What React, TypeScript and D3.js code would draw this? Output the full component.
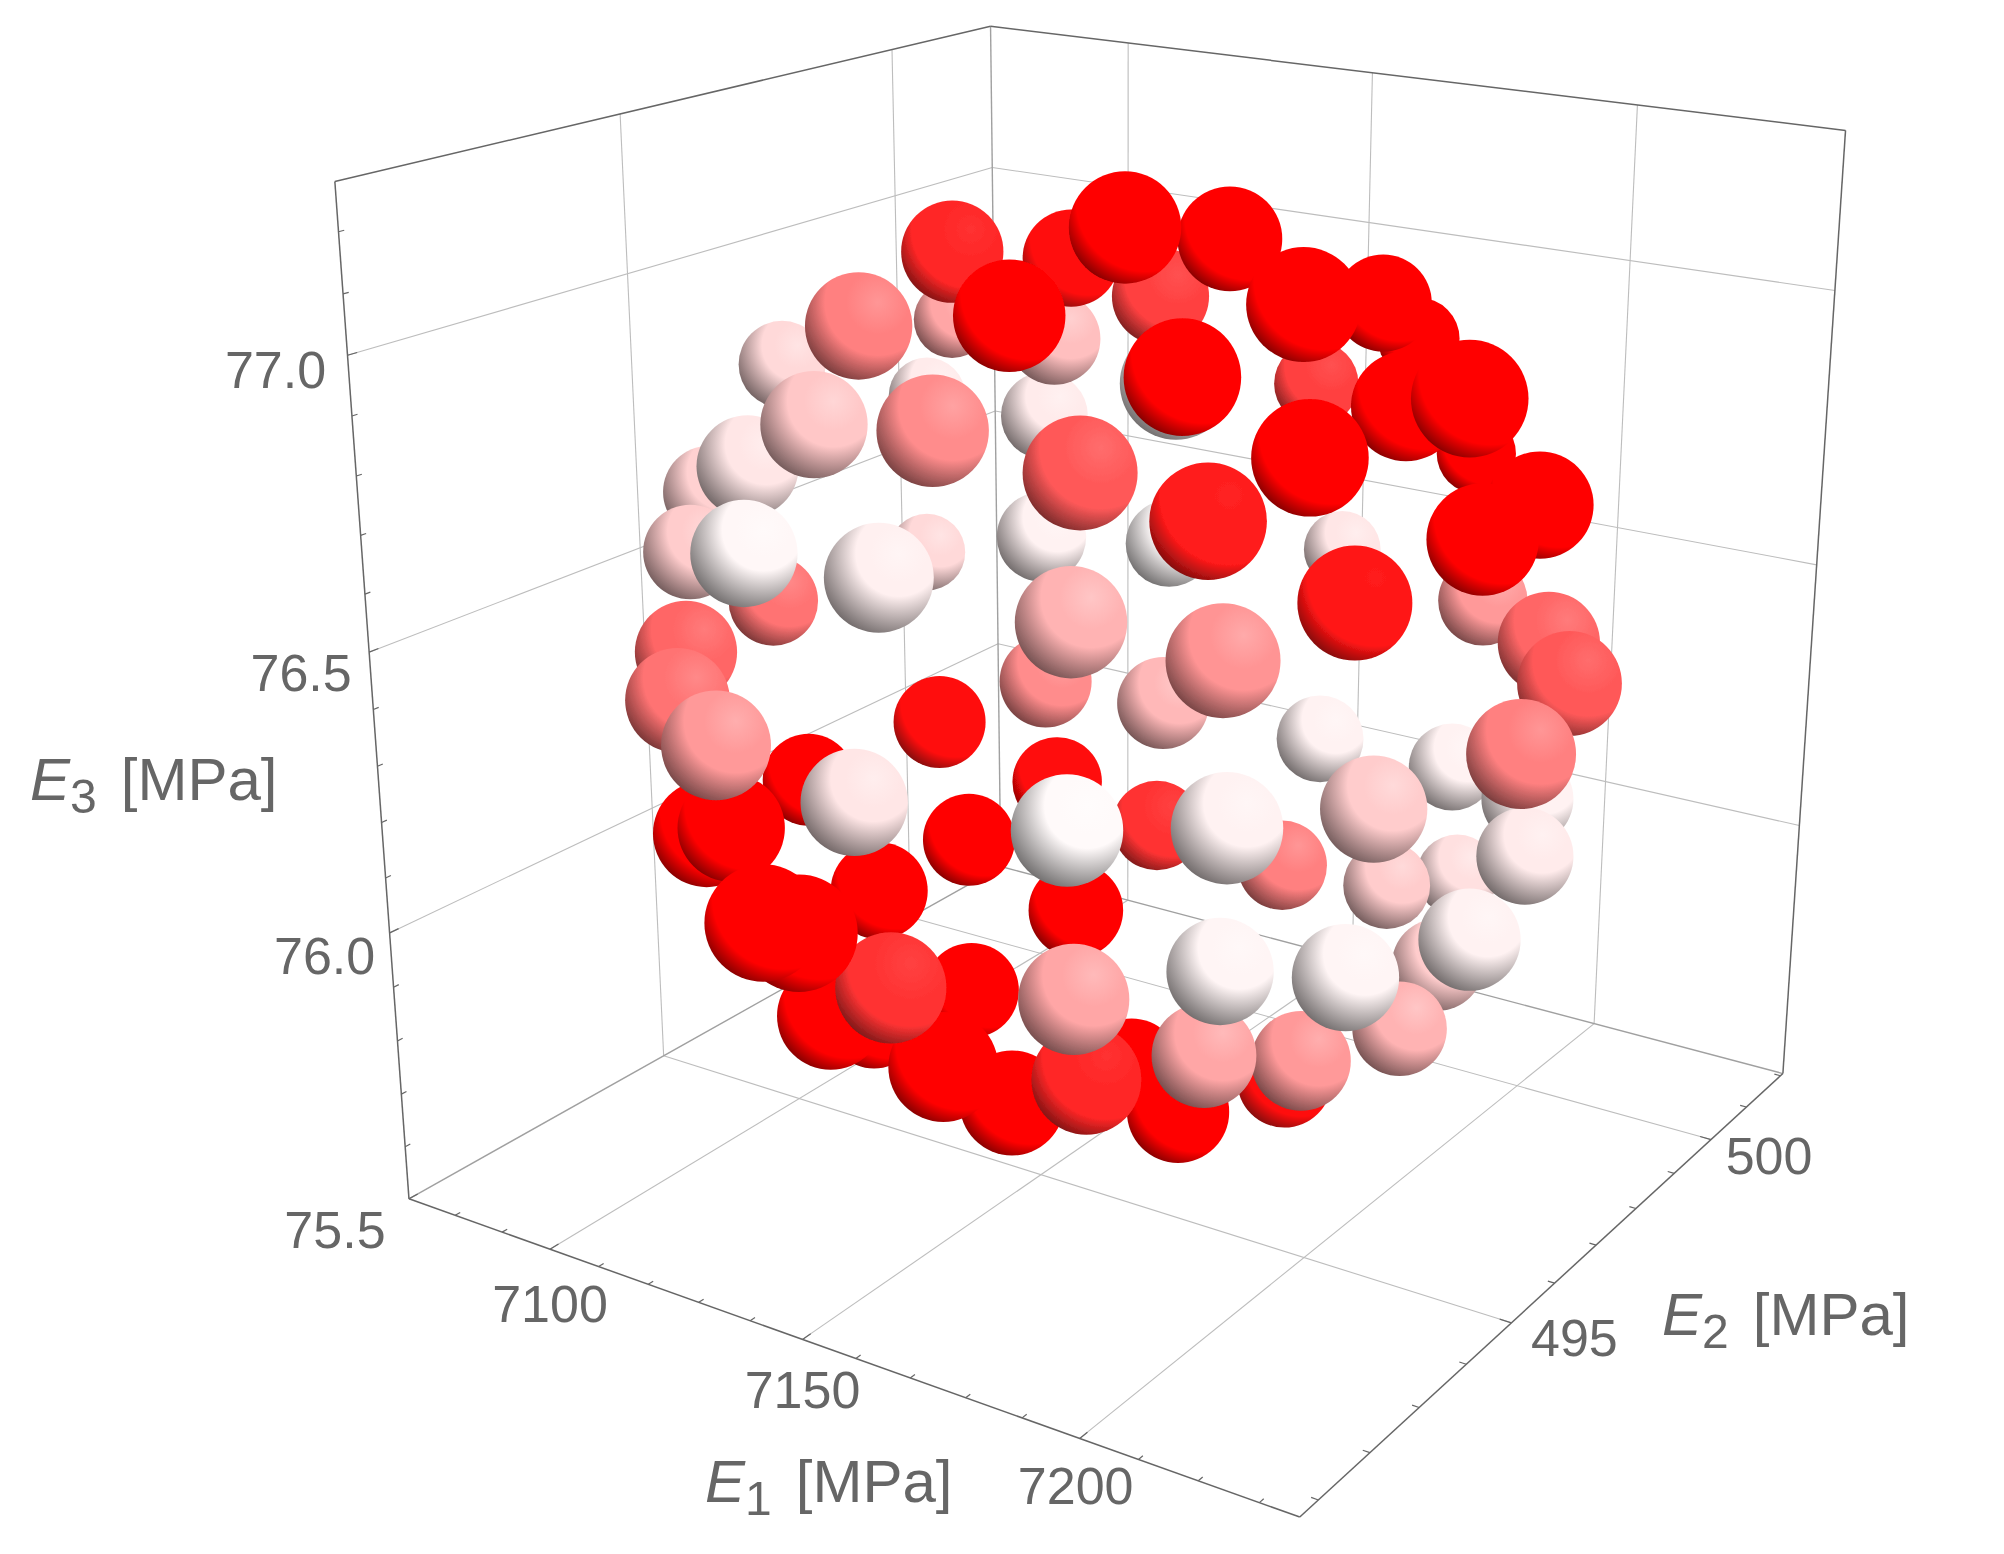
import React from 'react';
import * as d3 from 'd3';

const e1Values = [
  7128.1, 7134.3, 7168.8, 7168.6, 7156.9, 7147.5, 7179.2, 7188.8, 7197.1, 7177.8,
  7159.4, 7150.0, 7204.0, 7223.5, 7167.7, 7219.7, 7221.0, 7206.0, 7211.0, 7195.5,
  7138.0, 7174.4, 7124.8, 7080.0, 7128.3, 7077.0, 7150.5, 7125.3, 7078.7, 7116.2,
  7107.3, 7081.3, 7085.9, 7119.8, 7088.2, 7083.7, 7142.7, 7124.2, 7146.6, 7172.5,
  7196.5, 7133.8, 7150.8, 7188.5, 7217.3, 7224.7, 7227.7, 7104.4, 7110.0, 7126.8,
  7120.2, 7103.7, 7140.6, 7122.7, 7125.7, 7127.8, 7133.8, 7177.5, 7149.2, 7197.1,
  7168.1, 7165.6, 7206.8, 7185.4, 7204.4, 7212.9, 7179.6, 7182.0, 7215.2, 7196.8,
  7149.3, 7126.6, 7152.8, 7157.3, 7137.3, 7157.5, 7143.4, 7120.0, 7163.8, 7164.3,
  7180.5, 7182.0, 7165.8, 7181.8, 7191.7, 7187.8, 7207.8, 7192.5, 7182.9, 7197.2,
];
const e2Values = [
  495.66, 497.30, 494.75, 496.79, 493.88, 497.71, 494.59, 493.66, 494.99, 499.01,
  502.20, 500.88, 496.28, 495.10, 502.70, 497.25, 495.81, 494.11, 494.45, 493.41,
  498.94, 493.35, 497.92, 500.20, 493.97, 497.09, 493.15, 493.44, 499.77, 498.57,
  493.85, 495.33, 494.59, 492.69, 495.83, 499.24, 492.91, 497.69, 502.00, 493.37,
  493.60, 496.79, 497.44, 500.22, 497.93, 497.42, 495.93, 492.95, 492.33, 491.55,
  496.02, 495.04, 492.59, 491.68, 491.83, 495.83, 497.01, 492.77, 497.49, 493.64,
  498.14, 499.26, 495.46, 500.00, 499.36, 498.17, 499.21, 500.67, 496.60, 498.30,
  495.80, 494.24, 490.02, 490.18, 494.93, 491.61, 491.85, 494.68, 491.89, 493.05,
  492.57, 492.64, 495.20, 494.42, 494.14, 494.27, 494.82, 495.75, 496.53, 497.38,
];
const e3Values = [
  77.103, 77.052, 77.227, 77.149, 77.095, 76.992, 76.998, 77.056, 77.139, 76.985,
  76.788, 76.731, 76.943, 77.030, 76.560, 76.770, 76.773, 76.943, 76.707, 76.851,
  76.478, 76.891, 76.874, 76.766, 77.031, 76.778, 76.924, 76.880, 76.627, 76.695,
  76.762, 76.612, 76.540, 76.682, 76.401, 76.343, 76.677, 76.515, 76.357, 76.644,
  76.621, 76.302, 76.268, 76.415, 76.499, 76.467, 76.424, 76.469, 76.425, 76.423,
  76.232, 76.133, 76.305, 76.255, 76.264, 76.036, 76.100, 76.337, 76.028, 76.343,
  75.963, 76.145, 76.304, 76.099, 76.115, 76.091, 75.894, 75.840, 76.031, 75.836,
  75.958, 76.023, 76.271, 76.257, 75.824, 76.082, 75.979, 75.729, 75.945, 75.808,
  76.068, 75.928, 75.742, 75.755, 76.054, 75.885, 76.047, 75.796, 75.682, 75.769,
];
// colour value of each point, 0 is white and 1 is full red
const colorValues = [
  0.85, 0.95, 1, 1, 1, 0.75, 0.03, 1, 1, 1,
  1, 0.75, 1, 1, 1, 1, 1, 1, 0.92, 0.9,
  0.02, 0.65, 0.25, 0.35, 0.5, 0.15, 0.45, 0.22, 0.08, 0.08,
  0.1, 0.18, 0.2, 0.03, 0.55, 0.15, 0.06, 0.05, 0.1, 0.3,
  0.42, 0.45, 0.28, 0.4, 0.6, 0.65, 0.5, 0.6, 0.55, 0.4,
  0.95, 1, 0.1, 1, 1, 1, 0.97, 0.02, 0.8, 0.05,
  0.5, 0.05, 0.2, 0.05, 0.05, 0.08, 0.2, 0.12, 0.05, 0.2,
  1, 1, 1, 1, 1, 0.8, 1, 1, 1, 1,
  0.35, 0.85, 1, 1, 0.04, 0.35, 0.04, 0.4, 0.95, 0.3,
];

const e1Ticks = [7100, 7150, 7200];
const e2Ticks = [495, 500];
const e3Ticks = [75.5, 76, 76.5, 77];
const e1Minor = d3.range(7080, 7231, 10);
const e2Minor = d3.range(491, 503, 1);
const e3Minor = d3.range(75.5, 77.25, 0.1);

const WIDTH = 2004;
const HEIGHT = 1554;
const K = WIDTH / 1568;

const e1Scale = d3.scaleLinear().domain([7070, 7236.5]).range([0, 1]);
const e2Scale = d3.scaleLinear().domain([490.65, 502.07]).range([0, 1]);
const e3Scale = d3.scaleLinear().domain([75.5, 77.28]).range([0, 1]);

// camera: box corners on the picture, solved into a perspective map
const A = [320, 938], B = [1017, 1187], C = [1395, 840], D = [783, 678], E = [262, 142];
const rTaper = -0.094;
const det = (B[0] - C[0]) * (D[1] - C[1]) - (D[0] - C[0]) * (B[1] - C[1]);
const gx = C[0] + A[0] - B[0] - D[0];
const gy = C[1] + A[1] - B[1] - D[1];
const pTaper = (gx * (D[1] - C[1]) - (D[0] - C[0]) * gy) / det;
const qTaper = ((B[0] - C[0]) * gy - gx * (B[1] - C[1])) / det;
const aVec = [B[0] * (1 + pTaper) - A[0], B[1] * (1 + pTaper) - A[1]];
const bVec = [D[0] * (1 + qTaper) - A[0], D[1] * (1 + qTaper) - A[1]];
const cVec = [E[0] * (1 + rTaper) - A[0], E[1] * (1 + rTaper) - A[1]];

type P = [number, number];
const depthOf = (u: number, v: number, w: number) => 1 + pTaper * u + qTaper * v + rTaper * w;
function project(u: number, v: number, w: number): P {
  const d = depthOf(u, v, w);
  return [
    (K * (A[0] + aVec[0] * u + bVec[0] * v + cVec[0] * w)) / d,
    (K * (A[1] + aVec[1] * u + bVec[1] * v + cVec[1] * w)) / d,
  ];
}

const sizeScale = d3.scaleLinear().domain([0.875, 1.115]).range([46 * K, 30 * K]);
const toneScale = d3.scaleLinear<string>().domain([0, 1]).range(['#ffffff', '#ff0000']);
const edge = d3.line();

const points = e1Values
  .map((e1, i) => {
    const u = e1Scale(e1), v = e2Scale(e2Values[i]), w = e3Scale(e3Values[i]);
    const tone = colorValues[i];
    const base = d3.rgb(toneScale(tone));
    const dark = d3.rgb(base.r * 0.36, base.g * 0.36, base.b * 0.36);
    const light = d3.interpolateRgb(base, '#ffffff')(0.35 * (1 - tone));
    const [x, y] = project(u, v, w);
    return {
      id: i, x, y, tone,
      r: sizeScale(depthOf(u, v, w)),
      d: depthOf(u, v, w),
      base: base.formatHex(), dark: dark.formatHex(), light,
    };
  })
  .sort((a, b) => b.d - a.d);

// gridlines on floor and the two back walls
const gridPaths: P[][] = [
  ...e1Ticks.map(t => [project(e1Scale(t), 0, 0), project(e1Scale(t), 1, 0)] as P[]),
  ...e2Ticks.map(t => [project(0, e2Scale(t), 0), project(1, e2Scale(t), 0)] as P[]),
  ...e2Ticks.map(t => [project(0, e2Scale(t), 0), project(0, e2Scale(t), 1)] as P[]),
  ...e1Ticks.map(t => [project(e1Scale(t), 1, 0), project(e1Scale(t), 1, 1)] as P[]),
  ...e3Ticks.slice(1).map(t => [project(0, 0, e3Scale(t)), project(0, 1, e3Scale(t))] as P[]),
  ...e3Ticks.slice(1).map(t => [project(0, 1, e3Scale(t)), project(1, 1, e3Scale(t))] as P[]),
];
const frontEdges: P[][] = [
  [project(0, 0, 0), project(1, 0, 0)],
  [project(1, 0, 0), project(1, 1, 0)],
  [project(0, 0, 0), project(0, 0, 1)],
  [project(1, 1, 0), project(1, 1, 1)],
  [project(0, 0, 1), project(0, 1, 1)],
  [project(0, 1, 1), project(1, 1, 1)],
];
const backEdges: P[][] = [
  [project(0, 0, 0), project(0, 1, 0)],
  [project(0, 1, 0), project(1, 1, 0)],
  [project(0, 1, 0), project(0, 1, 1)],
];

const isMajor = (list: number[], t: number) => list.some(m => Math.abs(m - t) < 1e-6);
const tickPaths: P[][] = [
  ...e1Minor.map(t => {
    const len = isMajor(e1Ticks, t) ? 0.012 : 0.007;
    return [project(e1Scale(t), 0, 0), project(e1Scale(t), len, 0)] as P[];
  }),
  ...e2Minor.map(t => {
    const len = isMajor(e2Ticks, t) ? 0.012 : 0.007;
    return [project(1, e2Scale(t), 0), project(1 - len, e2Scale(t), 0)] as P[];
  }),
  ...e3Minor.map(t => {
    const len = isMajor(e3Ticks, t) ? 0.012 : 0.007;
    return [project(0, 0, e3Scale(t)), project(0, len, e3Scale(t))] as P[];
  }),
];

const e1LabelShift: P[] = [[0, 54], [0, 50], [-4, 47]];
const e2LabelShift: P[] = [[63, 14], [58, 16]];
const e3LabelShift: P[] = [[-74, 30], [-65, 22], [-68, 20], [-72, 14]];

const LABEL_COLOR = '#666666';
const FONT = '"Liberation Sans", Arial, sans-serif';

function TickText({ at, shift, text }: { at: P; shift: P; text: string }) {
  return (
    <text x={at[0] + shift[0]} y={at[1] + shift[1]} dy="0.36em" textAnchor="middle" fontSize={52} fill={LABEL_COLOR} fontFamily={FONT}>
      {text}
    </text>
  );
}

function AxisTitle({ x, y, sub }: { x: number; y: number; sub: string }) {
  return (
    <text x={x} y={y} fontSize={60} fill={LABEL_COLOR} fontFamily={FONT}>
      <tspan fontStyle="italic">E</tspan>
      <tspan fontSize={48} dy={13}>{sub}</tspan>
      <tspan dy={-13} dx={24}>[MPa]</tspan>
    </text>
  );
}

export default function App() {
  return (
    <svg width={WIDTH} height={HEIGHT} style={{ position: 'absolute', left: 0, top: 0, background: '#fff' }}>
      <defs>
        <filter id="soften" x="0" y="0" width="100%" height="100%" filterUnits="userSpaceOnUse">
          <feGaussianBlur stdDeviation={0.7} />
        </filter>
        {points.map(p => (
          <radialGradient key={p.id} id={`ball${p.id}`} cx={0.68} cy={0.28} r={0.85}>
            <stop offset="0" stopColor={p.light} />
            <stop offset={0.3 + 0.1 * p.tone} stopColor={p.base} />
            <stop offset={0.44 + 0.28 * p.tone} stopColor={p.base} />
            <stop offset="1" stopColor={p.dark} />
          </radialGradient>
        ))}
      </defs>
      <g filter="url(#soften)">
        <g fill="none">
          {gridPaths.map((pts, i) => (
            <path key={i} d={edge(pts) as string} stroke="#bdbdbd" strokeWidth={1.1} />
          ))}
          {backEdges.map((pts, i) => (
            <path key={i} d={edge(pts) as string} stroke="#a0a0a0" strokeWidth={1.4} />
          ))}
          {frontEdges.map((pts, i) => (
            <path key={i} d={edge(pts) as string} stroke="#666666" strokeWidth={1.5} />
          ))}
          {tickPaths.map((pts, i) => (
            <path key={i} d={edge(pts) as string} stroke="#666666" strokeWidth={1.2} />
          ))}
        </g>
        {points.map(p => (
          <circle key={p.id} cx={p.x} cy={p.y} r={p.r} fill={`url(#ball${p.id})`} />
        ))}
        {e1Ticks.map((t, i) => (
          <TickText key={t} at={project(e1Scale(t), 0, 0)} shift={e1LabelShift[i]} text={String(t)} />
        ))}
        {e2Ticks.map((t, i) => (
          <TickText key={t} at={project(1, e2Scale(t), 0)} shift={e2LabelShift[i]} text={String(t)} />
        ))}
        {e3Ticks.map((t, i) => (
          <TickText key={t} at={project(0, 0, e3Scale(t))} shift={e3LabelShift[i]} text={t.toFixed(1)} />
        ))}
        <AxisTitle x={30} y={800} sub="3" />
        <AxisTitle x={705} y={1502} sub="1" />
        <AxisTitle x={1662} y={1335} sub="2" />
      </g>
    </svg>
  );
}
